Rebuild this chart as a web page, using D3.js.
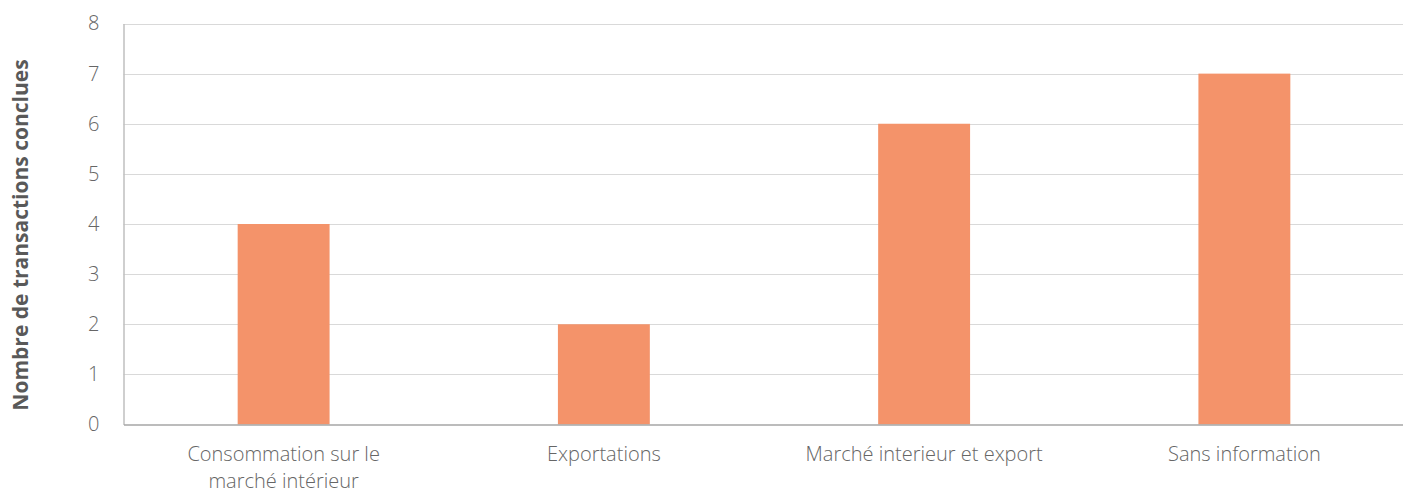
<html>
<head>
<style>
  body { margin: 0; background: #fff; }
  text { font-family: "Open Sans", sans-serif; }
</style>
</head>
<body>
<script src="https://d3js.org/d3.v7.min.js"></script>
<script>
  var categories = [['Consommation sur le', 'marché intérieur'], ['Exportations'], ['Marché interieur et export'], ['Sans information']];
  var values = [4, 2, 6, 7];
  var yTicks = [0, 1, 2, 3, 4, 5, 6, 7, 8];
  var yTitle = 'Nombre de transactions conclues';

  var width = 1403, height = 488,
      plotLeft = 123.5, plotTop = 23.5, plotRight = 1404.5, plotBottom = 424.5;

  var svg = d3.select('body').append('svg')
      .attr('width', width)
      .attr('height', height);

  // scales
  var keys = categories.map(d => d.join(' '));
  var x = d3.scaleBand().range([plotLeft, plotRight]).domain(keys)
      .paddingInner(0.713).paddingOuter(0.3565);
  var y = d3.scaleLinear().range([plotBottom, plotTop]).domain([0, 8]);

  // grid
  svg.append('g')
      .selectAll('line')
      .data(yTicks.slice(1))
      .enter()
      .append('line')
      .attr('x1', plotLeft).attr('x2', plotRight)
      .attr('y1', d => Math.round(y(d)) + 0.5).attr('y2', d => Math.round(y(d)) + 0.5)
      .attr('stroke', '#d9d9d9').attr('stroke-width', 1);

  // bars
  svg.append('g')
      .selectAll('rect')
      .data(values)
      .enter()
      .append('rect')
      .attr('x', (d, i) => x(keys[i]))
      .attr('y', d => y(d))
      .attr('width', x.bandwidth())
      .attr('height', d => y(0) - y(d))
      .attr('fill', '#f4936a');

  // y axis
  var yAxis = svg.append('g')
      .attr('transform', `translate(${plotLeft},0)`)
      .call(d3.axisLeft(y).tickValues(yTicks).tickSize(0).tickPadding(24));
  yAxis.select('.domain').attr('stroke', '#bfbfbf').attr('stroke-width', 1.5);
  yAxis.selectAll('text')
      .attr('font-family', '"Open Sans", sans-serif')
      .attr('font-weight', 300)
      .attr('font-size', 20)
      .attr('fill', '#666');

  // x axis
  var xAxis = svg.append('g')
      .attr('transform', `translate(0,${plotBottom})`)
      .call(d3.axisBottom(x).tickSize(0).tickFormat(''));
  xAxis.select('.domain').attr('stroke', '#a6a6a6').attr('stroke-width', 1.5);
  xAxis.selectAll('.tick text').remove();
  xAxis.selectAll('.tick')
      .data(categories)
      .append('text')
      .attr('font-family', '"Open Sans", sans-serif')
      .attr('font-weight', 300)
      .attr('font-size', 20)
      .attr('fill', '#666')
      .attr('text-anchor', 'middle')
      .selectAll('tspan')
      .data(d => d)
      .enter()
      .append('tspan')
      .attr('x', 0)
      .attr('y', (d, i) => 36.5 + i * 27)
      .text(d => d);

  // y title
  svg.append('text')
      .attr('transform', `translate(28,${(plotTop + plotBottom) / 2 + 11}) rotate(-90)`)
      .attr('text-anchor', 'middle')
      .attr('font-weight', 700)
      .attr('font-size', 21)
      .attr('fill', '#595959')
      .text(yTitle);
</script>
</body>
</html>
